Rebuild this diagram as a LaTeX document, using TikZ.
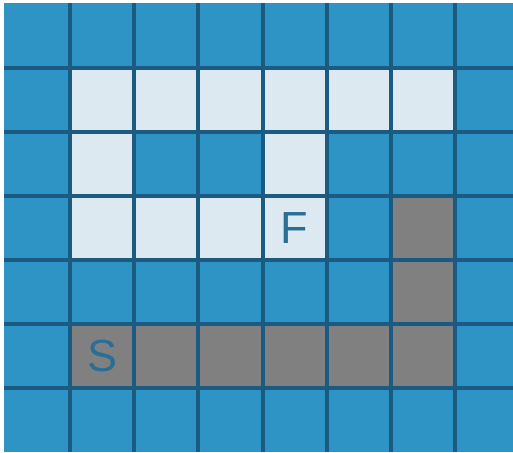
\documentclass[tikz,border=0pt]{standalone}
\usepackage{fontspec}
\setmainfont{Liberation Sans}
\usetikzlibrary{positioning}

\definecolor{cellblue}{HTML}{2E93C5}
\definecolor{cellopen}{HTML}{DCE9F0}
\definecolor{cellwall}{HTML}{808080}
\definecolor{gridink}{HTML}{1B5B82}
\definecolor{letterink}{HTML}{2A6E98}

\begin{document}
\begin{tikzpicture}[
  x = 1pt, y = -1pt,
  open/.style   = {fill=cellopen},
  wall/.style   = {fill=cellwall},
  gridline/.style = {draw=gridink, line width=4pt},
  letter/.style = {text=letterink, inner sep=0pt,
                   font=\fontsize{45}{45}\selectfont},
]
\useasboundingbox (0,0) rectangle (513,452);

% Board background
\fill[cellblue] (4,3) rectangle (513,452);

% Open path cells
\foreach \c/\r in {1/1,2/1,3/1,4/1,5/1,6/1,1/2,4/2,1/3,2/3,3/3,4/3}
  \fill[open] ({5.8+64.2*\c},{4+64*\r}) rectangle +(64.2,64);

% Walked cells
\foreach \c/\r in {6/3,6/4,1/5,2/5,3/5,4/5,5/5,6/5}
  \fill[wall] ({5.8+64.2*\c},{4+64*\r}) rectangle +(64.2,64);

% Grid lines
\foreach \c in {1,...,7}
  \draw[gridline] ({5.8+64.2*\c},3) -- ({5.8+64.2*\c},452);
\foreach \r in {1,...,6}
  \draw[gridline] (4,{4+64*\r}) -- (513,{4+64*\r});

% Start and finish
\node[letter] (finish) at ({5.8+64.2*4.5},{4+64*3.5}) {F};
\node[letter] (start)  at ({5.8+64.2*1.5},{4+64*5.5}) {S};

\end{tikzpicture}
\end{document}
